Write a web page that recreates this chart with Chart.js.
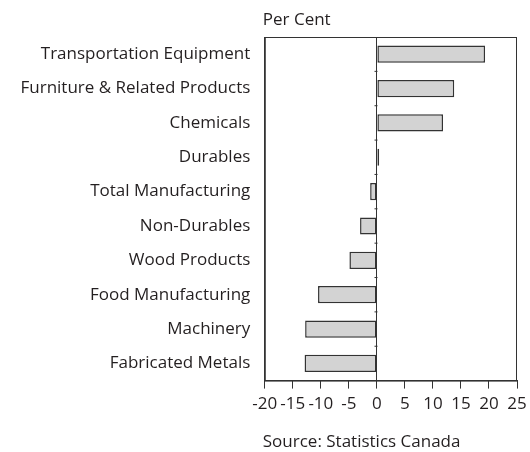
<!DOCTYPE html>
<html>
<head>
<meta charset="utf-8">
<script src="https://cdn.jsdelivr.net/npm/chart.js@4/dist/chart.umd.min.js"></script>
<style>
html,body{margin:0;padding:0;background:#fff;}
#wrap{width:530px;height:452px;}
</style>
</head>
<body>
<div id="wrap"><canvas id="c" width="530" height="452"></canvas></div>
<script>
const categories = [
  "Transportation Equipment",
  "Furniture & Related Products",
  "Chemicals",
  "Durables",
  "Total Manufacturing",
  "Non-Durables",
  "Wood Products",
  "Food Manufacturing",
  "Machinery",
  "Fabricated Metals"
];
const values = [19.3, 13.8, 11.8, 0.4, -1.2, -3.0, -4.9, -10.5, -12.8, -12.9];
const xMin = -20, xMax = 25, xStep = 5;
const unitLabel = "Per Cent";
const sourceLabel = "Source: Statistics Canada";

const FONT = "'Open Sans', sans-serif";
const TEXT = "#231f20";

const framePlugin = {
  id: 'frame',
  afterDatasetsDraw(chart) {
    const {ctx, chartArea: a, scales} = chart;
    ctx.save();
    ctx.strokeStyle = '#333';
    ctx.lineWidth = 1;
    ctx.strokeRect(a.left + 0.5, a.top + 0.5, a.right - a.left - 1, a.bottom - a.top);
    const x0 = Math.round(scales.x.getPixelForValue(0)) + 0.5;
    for (let i = 1; i < categories.length; i++) {
      const y = (scales.y.getPixelForValue(i - 1) + scales.y.getPixelForValue(i)) / 2;
      ctx.beginPath();
      ctx.moveTo(x0 - 3, y);
      ctx.lineTo(x0, y);
      ctx.stroke();
    }
    ctx.fillStyle = TEXT;
    ctx.textBaseline = 'middle';
    ctx.textAlign = 'left';
    ctx.font = "17px " + FONT;
    ctx.fillText(unitLabel, a.left - 2, a.top - 17);
    ctx.fillText(sourceLabel, a.left - 2, 442);
    ctx.restore();
  }
};

new Chart(document.getElementById('c'), {
  type: 'bar',
  data: {
    labels: categories,
    datasets: [{
      data: values,
      backgroundColor: '#d3d3d3',
      borderColor: '#333',
      borderWidth: 1.5,
      borderSkipped: false,
      categoryPercentage: 1,
      barPercentage: 0.5
    }]
  },
  options: {
    indexAxis: 'y',
    responsive: false,
    animation: false,
    layout: {padding: {top: 37, bottom: 33, left: 14, right: 2}},
    plugins: {legend: {display: false}, tooltip: {enabled: false}},
    scales: {
      x: {
        min: xMin, max: xMax,
        afterFit: (s) => { s.paddingRight = 13; },
        ticks: {stepSize: xStep, color: TEXT, font: {family: FONT, size: 17}, padding: 5, autoSkip: false, maxRotation: 0},
        grid: {
          color: (c) => (c.tick && c.tick.value === 0) ? '#333' : 'transparent',
          tickColor: '#333',
          tickLength: 8,
          lineWidth: 1
        },
        border: {display: true, color: '#333'}
      },
      y: {
        ticks: {color: TEXT, font: {family: FONT, size: 17}, padding: 6.5},
        grid: {display: false},
        border: {display: true, color: '#333'}
      }
    }
  },
  plugins: [framePlugin]
});
</script>
</body>
</html>
